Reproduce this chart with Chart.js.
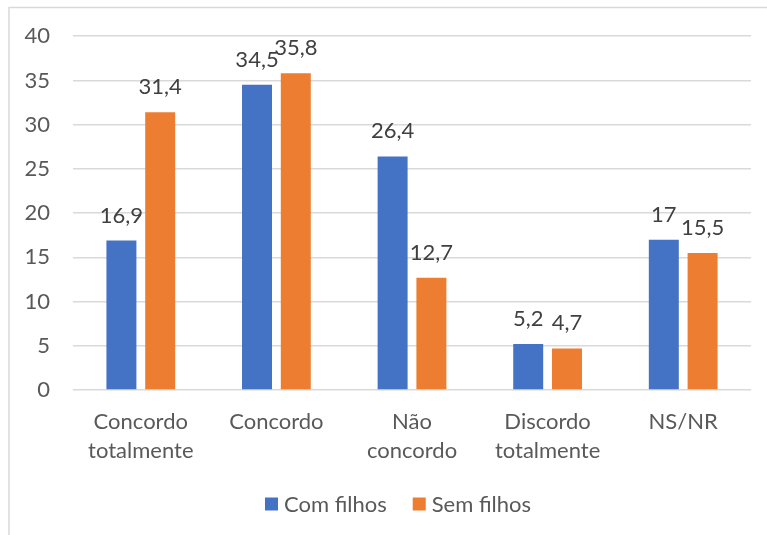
<!DOCTYPE html>
<html>
<head>
<meta charset="utf-8">
<script src="https://cdn.jsdelivr.net/npm/chart.js@4"></script>
<style>
  html, body { margin: 0; padding: 0; background: #ffffff; }
  #wrap { width: 767px; height: 535px; position: relative; }
</style>
</head>
<body>
<div id="wrap"><canvas id="chart" width="767" height="535"></canvas></div>
<script>
// Answer categories (multi-line axis labels)
const categories = [
  ['Concordo', 'totalmente'],
  ['Concordo'],
  ['Não', 'concordo'],
  ['Discordo', 'totalmente'],
  ['NS/NR']
];
const seriesNames = ['Com filhos', 'Sem filhos'];
const comFilhos = [16.9, 34.5, 26.4, 5.2, 17];
const semFilhos = [31.4, 35.8, 12.7, 4.7, 15.5];
const yTicks = [0, 5, 10, 15, 20, 25, 30, 35, 40];

const BLUE = '#4472C4';
const ORANGE = '#ED7D31';
const FONT = 'Lato, "Open Sans", sans-serif';
const SIZE = 22;

// Frame lines around the chart object (top and left edges)
const framePlugin = {
  id: 'frame',
  beforeDraw(chart) {
    const ctx = chart.ctx;
    ctx.save();
    ctx.strokeStyle = '#d9d9d9';
    ctx.lineWidth = 1.5;
    ctx.beginPath();
    ctx.moveTo(9, 535);
    ctx.lineTo(9, 7.5);
    ctx.lineTo(767, 7.5);
    ctx.stroke();
    ctx.restore();
  }
};

// Value labels above each bar, written with a comma decimal separator
const valueLabels = {
  id: 'valueLabels',
  afterDatasetsDraw(chart) {
    const ctx = chart.ctx;
    ctx.save();
    ctx.font = SIZE + 'px ' + FONT;
    ctx.fillStyle = '#404040';
    ctx.textAlign = 'center';
    ctx.textBaseline = 'alphabetic';
    chart.data.datasets.forEach((ds, di) => {
      chart.getDatasetMeta(di).data.forEach((bar, i) => {
        const txt = String(ds.data[i]).replace('.', ',');
        ctx.fillText(txt, bar.x, bar.y - 18);
      });
    });
    ctx.restore();
  }
};

// Legend drawn below the axis labels
const bottomLegend = {
  id: 'bottomLegend',
  afterDraw(chart) {
    const ctx = chart.ctx;
    ctx.save();
    ctx.font = SIZE + 'px ' + FONT;
    ctx.textBaseline = 'middle';
    ctx.textAlign = 'left';
    const box = 13, gap = 6, itemGap = 26, cy = 504;
    const items = chart.data.datasets.map(d => ({ label: d.label, color: d.backgroundColor }));
    const widths = items.map(it => box + gap + ctx.measureText(it.label).width);
    const total = widths.reduce((a, b) => a + b, 0) + itemGap * (items.length - 1);
    let x = 398 - total / 2;
    items.forEach((it, k) => {
      ctx.fillStyle = it.color;
      ctx.fillRect(x, cy - box / 2, box, box);
      ctx.fillStyle = '#595959';
      ctx.fillText(it.label, x + box + gap, cy + 1);
      x += widths[k] + itemGap;
    });
    ctx.restore();
  }
};

new Chart(document.getElementById('chart'), {
  type: 'bar',
  data: {
    labels: categories,
    datasets: [
      { label: seriesNames[0], data: comFilhos, backgroundColor: BLUE },
      { label: seriesNames[1], data: semFilhos, backgroundColor: ORANGE }
    ]
  },
  options: {
    responsive: false,
    animation: false,
    devicePixelRatio: 1,
    layout: { padding: { top: 35, right: 16, bottom: 0, left: 0 } },
    datasets: { bar: { categoryPercentage: 0.572, barPercentage: 0.773 } },
    plugins: {
      legend: { display: false },
      tooltip: { enabled: false },
      title: { display: false }
    },
    scales: {
      x: {
        grid: { display: false, drawTicks: false },
        border: { display: false },
        ticks: {
          color: '#595959',
          font: { family: FONT, size: SIZE, lineHeight: '29px' },
          padding: 17,
          maxRotation: 0,
          autoSkip: false
        },
        afterFit(scale) { scale.height = 145; }
      },
      y: {
        min: 0,
        max: 40,
        afterBuildTicks(scale) { scale.ticks = yTicks.map(v => ({ value: v })); },
        grid: { color: '#d9d9d9', lineWidth: 1.5, drawTicks: false },
        border: { display: false },
        ticks: {
          color: '#595959',
          font: { family: FONT, size: SIZE },
          padding: 23
        },
        afterFit(scale) { scale.width = 73; }
      }
    }
  },
  plugins: [framePlugin, valueLabels, bottomLegend]
});
</script>
</body>
</html>
